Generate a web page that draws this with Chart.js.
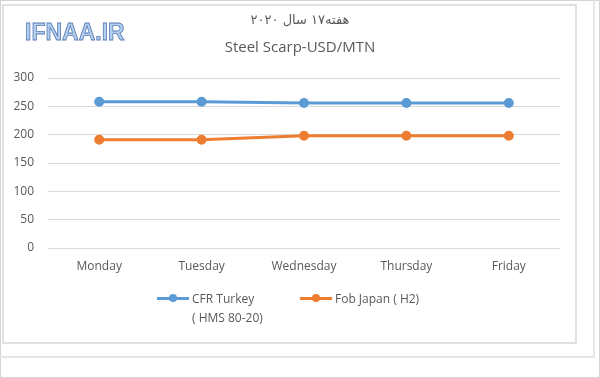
<!DOCTYPE html>
<html>
<head>
<meta charset="utf-8">
<script src="https://cdn.jsdelivr.net/npm/chart.js@4"></script>
<style>
  html, body { margin: 0; padding: 0; background: #fff; }
  #wrap { position: relative; width: 600px; height: 378px; overflow: hidden; font-family: "Liberation Sans", "DejaVu Sans", sans-serif; }
  .frame { position: absolute; box-sizing: border-box; }
  #outer { left: 0; top: 0; width: 600px; height: 378px; border: 1px solid #d4d4d4; }
  #mid { left: 0; top: 0; width: 595px; height: 358px; border-right: 2px solid #e6e6e6; border-bottom: 2px solid #e6e6e6; }
  #inner { left: 2px; top: 4px; width: 575px; height: 340px; border: 2px solid #e0e0e0; }
  #logo { position: absolute; left: 25px; top: 19px; font: bold 23px "Liberation Sans", sans-serif; color: #b3cff0;
          -webkit-text-stroke: 0.8px #5a7db3; }
  #t1 { position: absolute; left: 0; width: 600px; top: 12px; text-align: center; font: 13px "DejaVu Sans", sans-serif; color: #595959; direction: rtl; }
  #t2 { position: absolute; left: 0; width: 600px; top: 36px; text-align: center; font: 15px "Open Sans", sans-serif; color: #595959; }
  #chart { position: absolute; left: 0; top: 0; }
  #legend { position: absolute; top: 289px; left: 0; width: 600px; font: 12px "Open Sans", sans-serif; color: #595959; }
  .item { position: absolute; display: flex; align-items: flex-start; }
  .mark { position: relative; width: 32px; height: 16px; margin-right: 3px; }
  .mark .ln { position: absolute; left: 0; right: 0; top: 8px; height: 3px; }
  .mark .dt { position: absolute; left: 12px; top: 5px; width: 8px; height: 8px; border-radius: 50%; }
  .txt { line-height: 19px; }
</style>
</head>
<body>
<div id="wrap">
  <div class="frame" id="outer"></div>
  <div class="frame" id="mid"></div>
  <div class="frame" id="inner"></div>
  <canvas id="chart" width="600" height="378"></canvas>
  <div id="logo">IFNAA.IR</div>
  <div id="t1">هفته۱۷ سال ۲۰۲۰</div>
  <div id="t2">Steel Scarp-USD/MTN</div>
  <div id="legend"></div>
</div>
<script>
const days = ["Monday", "Tuesday", "Wednesday", "Thursday", "Friday"];
const cfrTurkey = [258, 258, 256, 256, 256];
const fobJapan = [191, 191, 198, 198, 198];
const seriesNames = [["CFR Turkey", "( HMS 80-20)"], ["Fob Japan ( H2)"]];
const seriesColors = ["#5b9bd5", "#ed7d31"];
const legendLeft = [157, 300];

const datasets = [cfrTurkey, fobJapan].map((vals, i) => ({
  label: seriesNames[i].join(" "),
  data: vals,
  borderColor: seriesColors[i],
  backgroundColor: seriesColors[i],
  borderWidth: 3,
  pointRadius: 3.5,
  pointHoverRadius: 3.5,
  tension: 0,
}));

new Chart(document.getElementById("chart").getContext("2d"), {
  type: "line",
  data: { labels: days, datasets },
  options: {
    responsive: false,
    animation: false,
    layout: { padding: { left: 0, top: 78, right: 40, bottom: 100 } },
    plugins: { legend: { display: false }, title: { display: false }, tooltip: { enabled: false } },
    scales: {
      x: {
        offset: true,
        grid: { display: false, drawTicks: false },
        border: { display: false },
        ticks: { color: "#595959", font: { family: "Open Sans", size: 12 }, padding: 11, maxRotation: 0 },
        afterFit: (s) => { s.height = 30; },
      },
      y: {
        min: 0, max: 300,
        grid: { color: "#d9d9d9", lineWidth: 1, drawTicks: false },
        border: { display: false },
        ticks: { stepSize: 50, color: "#595959", font: { family: "Open Sans", size: 12 }, padding: 14 },
        afterFit: (s) => { s.width = 48; },
      },
    },
  },
});

// legend in html so the first entry can wrap onto two lines
const legend = document.getElementById("legend");
datasets.forEach((d, i) => {
  const item = document.createElement("div");
  item.className = "item";
  item.style.left = legendLeft[i] + "px";
  item.innerHTML = `<div class="mark"><div class="ln" style="background:${d.borderColor}"></div>` +
    `<div class="dt" style="background:${d.borderColor}"></div></div>` +
    `<div class="txt">${seriesNames[i].join("<br>")}</div>`;
  legend.appendChild(item);
});
</script>
</body>
</html>
